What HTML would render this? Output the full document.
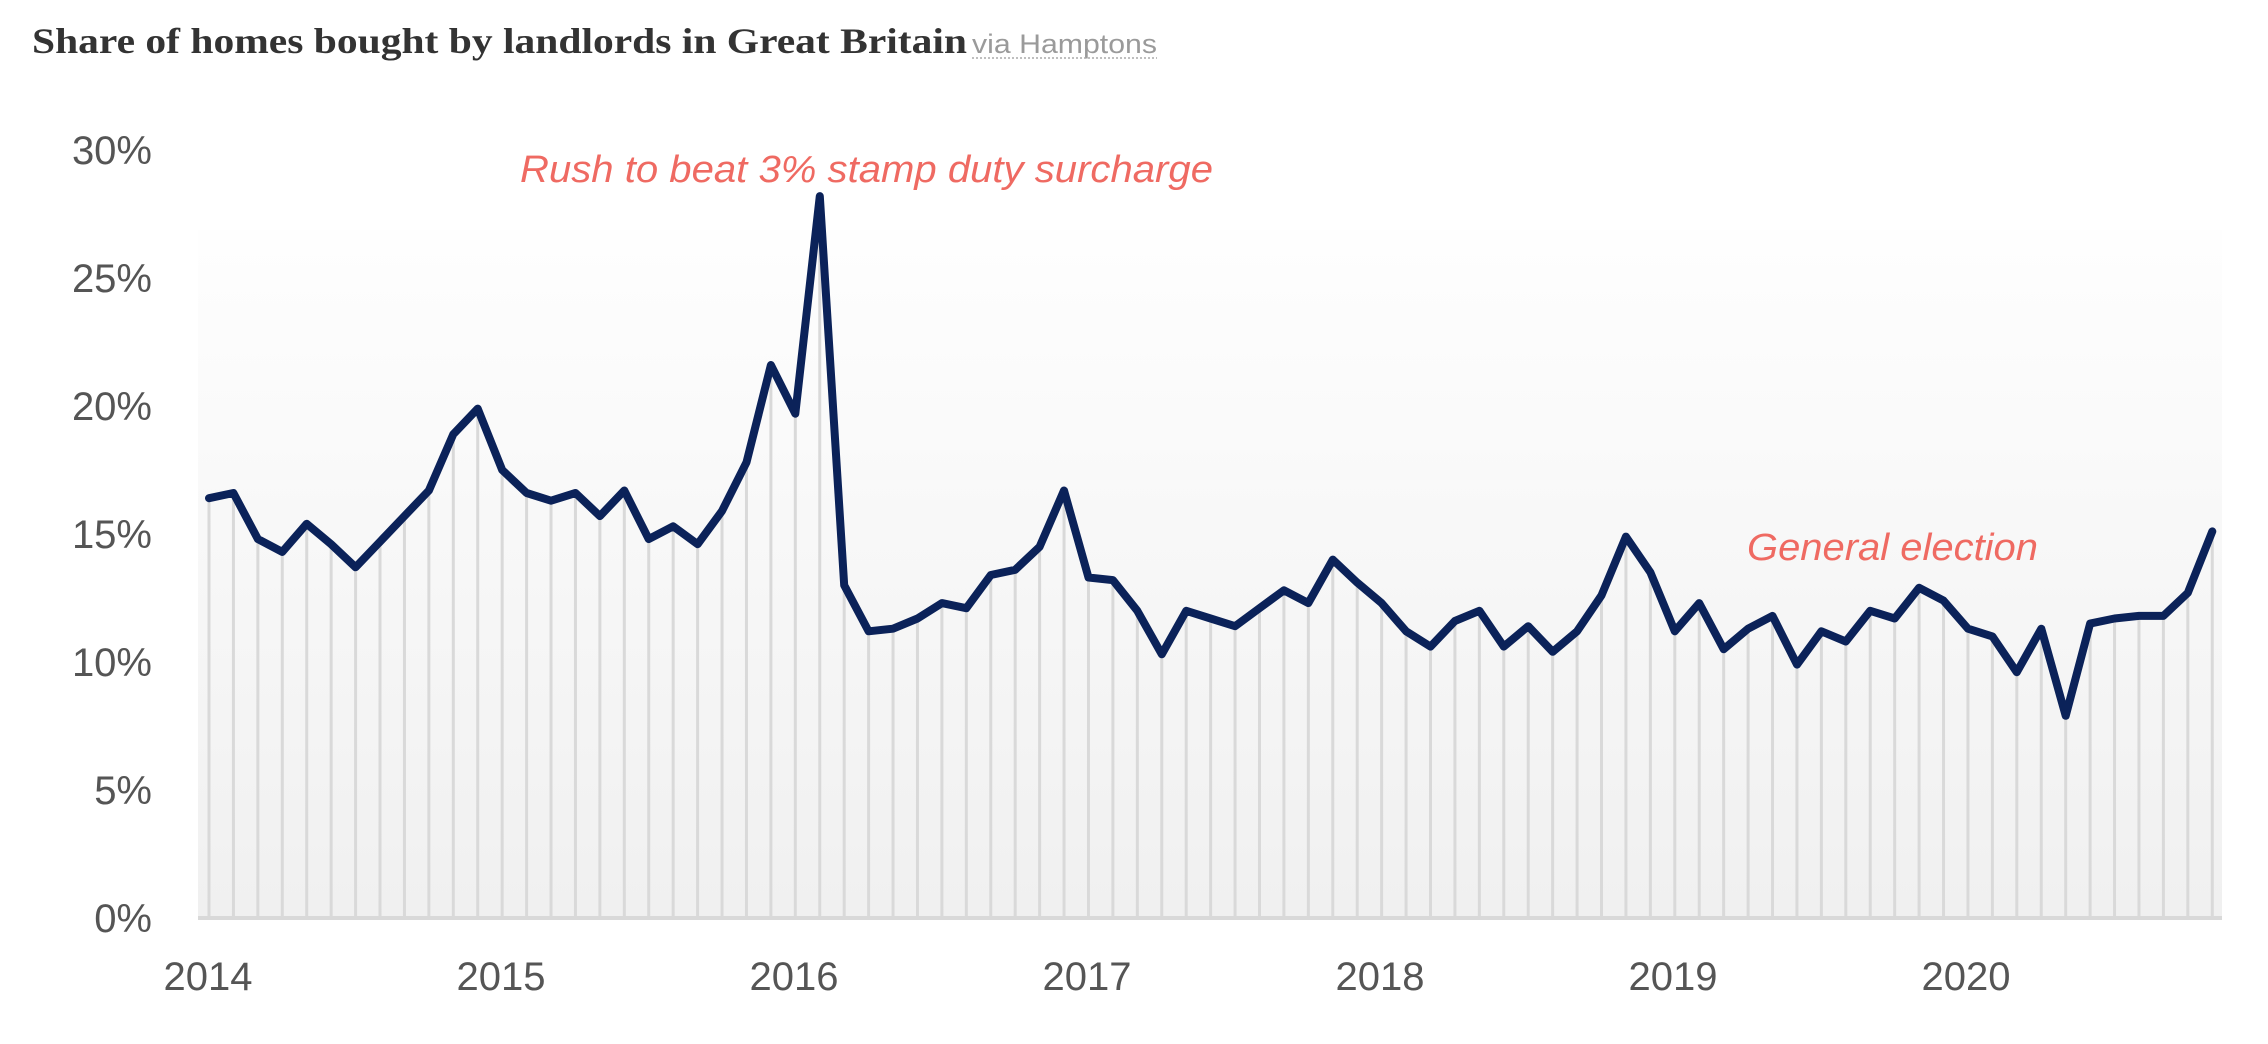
<!DOCTYPE html>
<html><head><meta charset="utf-8"><style>
html,body{margin:0;padding:0;background:#fff;}
svg{display:block}
</style></head><body>
<svg id="s" width="2268" height="1044" viewBox="0 0 2268 1044" xmlns="http://www.w3.org/2000/svg">
<defs>
<linearGradient id="bg" x1="0" y1="0" x2="0" y2="1">
<stop offset="0" stop-color="#fefefe"/>
<stop offset="1" stop-color="#f0f0f0"/>
</linearGradient>
</defs>
<text x="32" y="53" font-family="Liberation Serif, serif" font-weight="bold" font-size="36" fill="#333" textLength="935" lengthAdjust="spacingAndGlyphs">Share of homes bought by landlords in Great Britain</text>
<text x="972" y="53" font-family="Liberation Sans, sans-serif" font-size="27" fill="#9a9a9a" textLength="185" lengthAdjust="spacingAndGlyphs">via Hamptons</text>
<line x1="972" y1="58" x2="1157" y2="58" stroke="#aaa" stroke-width="1.5" stroke-dasharray="2,2"/>
<rect x="198" y="230" width="2024" height="688" fill="url(#bg)"/>
<g id="vl" stroke="#d9d9d9" stroke-width="3"></g>
<line x1="198" y1="918" x2="2222" y2="918" stroke="#d9d9d9" stroke-width="4"/>
<polyline id="pl" fill="none" stroke="#0b2259" stroke-width="8" stroke-linejoin="round" stroke-linecap="round" points=""/>
<g font-family="Liberation Sans, sans-serif" font-size="40" fill="#555" text-anchor="end">
<text x="152" y="932">0%</text>
<text x="152" y="804">5%</text>
<text x="152" y="676">10%</text>
<text x="152" y="548">15%</text>
<text x="152" y="420">20%</text>
<text x="152" y="292">25%</text>
<text x="152" y="164">30%</text>
</g>
<g font-family="Liberation Sans, sans-serif" font-size="40" fill="#555" text-anchor="middle">
<text x="208" y="990">2014</text>
<text x="501" y="990">2015</text>
<text x="794" y="990">2016</text>
<text x="1087" y="990">2017</text>
<text x="1380" y="990">2018</text>
<text x="1673" y="990">2019</text>
<text x="1966" y="990">2020</text>
</g>
<text x="520" y="182" font-family="Liberation Sans, sans-serif" font-style="italic" font-size="38" fill="#ef6a62" textLength="693" lengthAdjust="spacingAndGlyphs">Rush to beat 3% stamp duty surcharge</text>
<text x="1747" y="560" font-family="Liberation Sans, sans-serif" font-style="italic" font-size="38" fill="#ef6a62" textLength="291" lengthAdjust="spacingAndGlyphs">General election</text>
</svg>
<script>
var d=[16.4,16.6,14.8,14.3,15.4,14.6,13.7,14.7,15.7,16.7,18.9,19.9,
17.5,16.6,16.3,16.6,15.7,16.7,14.8,15.3,14.6,15.9,17.8,21.6,
19.7,28.2,13.0,11.2,11.3,11.7,12.3,12.1,13.4,13.6,14.5,16.7,
13.3,13.2,12.0,10.3,12.0,11.7,11.4,12.1,12.8,12.3,14.0,13.1,
12.3,11.2,10.6,11.6,12.0,10.6,11.4,10.4,11.2,12.6,14.9,13.5,
11.2,12.3,10.5,11.3,11.8,9.9,11.2,10.8,12.0,11.7,12.9,12.4,
11.3,11.0,9.6,11.3,7.9,11.5,11.7,11.8,11.8,12.7,15.1];
var pts=[],g=document.getElementById('vl'),ns='http://www.w3.org/2000/svg';
for(var i=0;i<d.length;i++){var x=209+i*24.43,y=918-d[i]*25.6;pts.push(x.toFixed(1)+','+y.toFixed(1));
var l=document.createElementNS(ns,'line');l.setAttribute('x1',x);l.setAttribute('x2',x);l.setAttribute('y1',y);l.setAttribute('y2',918);g.appendChild(l);}
document.getElementById('pl').setAttribute('points',pts.join(' '));
</script>
</body></html>
